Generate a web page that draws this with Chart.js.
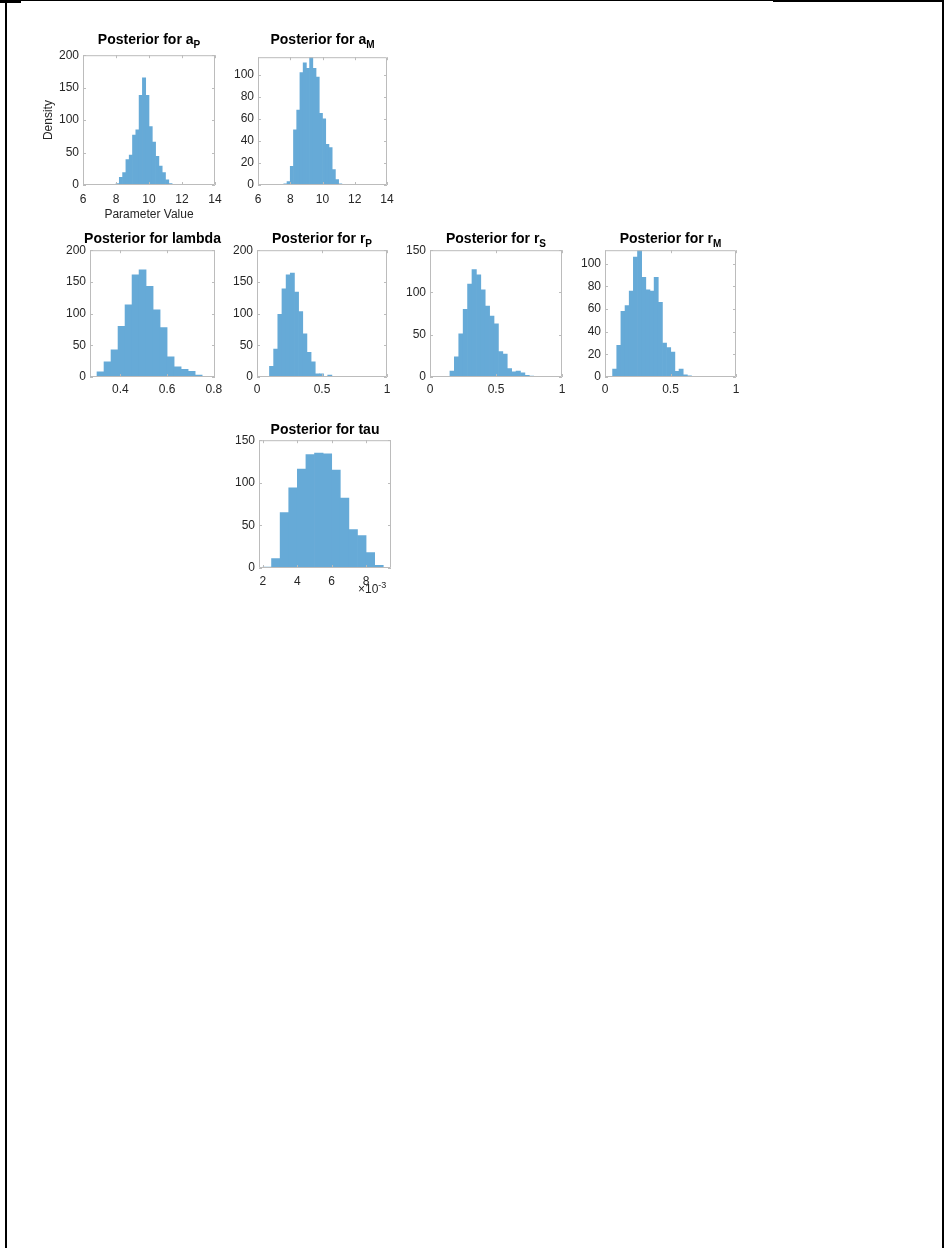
<!DOCTYPE html>
<html>
<head>
<meta charset="utf-8">
<title>Posterior histograms</title>
<script src="https://cdn.jsdelivr.net/npm/chart.js@4.4.1/dist/chart.umd.min.js"></script>
<style>
  body { margin: 0; background: #fff; width: 945px; height: 1248px; position: relative; overflow: hidden;
         font-family: "Liberation Sans", Arial, Helvetica, sans-serif; }
  .rule { position: absolute; background: #000; }
  .panel { position: absolute; }
  .ttl { position: absolute; font-weight: bold; font-size: 14px; line-height: 16px; color: #000;
         white-space: nowrap; transform: translateX(-50%); }
  .ttl sub { font-size: 10px; vertical-align: -4px; line-height: 0; }
  .exp { position: absolute; font-size: 12px; line-height: 14px; color: #262626; white-space: nowrap; }
  .exp sup { font-size: 9px; vertical-align: 5px; line-height: 0; }
</style>
</head>
<body>
<div class="rule" style="left:0;top:0;width:21px;height:3px"></div>
<div class="rule" style="left:21px;top:0;width:752px;height:1px"></div>
<div class="rule" style="left:773px;top:0;width:171px;height:2px"></div>
<div class="rule" style="left:5px;top:0;width:2px;height:1248px"></div>
<div class="rule" style="left:942px;top:0;width:2px;height:1248px"></div>

<script>
// histogram bins: first edge, bin width, counts per bin
var aPStart = 8.0, aPWidth = 0.2;
var aPCounts = [2, 12, 19, 39, 46, 77, 85, 138, 165, 138, 90, 66, 44, 29, 19, 8, 2];

var aMStart = 7.6, aMWidth = 0.2;
var aMCounts = [1, 3, 17, 50, 68, 102, 111, 106, 116, 106, 98, 65, 60, 37, 34, 14, 5, 1];

var lambdaStart = 0.27, lambdaWidth = 0.03;
var lambdaCounts = [1, 8, 24, 43, 80, 114, 161, 169, 143, 106, 78, 32, 16, 12, 9, 3];

var rPStart = 0.032, rPWidth = 0.032;
var rPCounts = [1, 1, 17, 44, 99, 139, 161, 164, 134, 103, 68, 39, 24, 5, 5, 1, 3];

var rSStart = 0.151, rSWidth = 0.0334;
var rSCounts = [7, 24, 51, 80, 110, 127, 121, 103, 84, 72, 63, 30, 27, 10, 6, 7, 5, 2, 1];

var rMStart = 0.058, rMWidth = 0.0317;
var rMCounts = [7, 28, 58, 63, 76, 106, 112, 88, 77, 76, 88, 66, 30, 26, 22, 5, 7, 2, 1];

var tauStart = 2.0, tauWidth = 0.5;   // x10^-3
var tauCounts = [1, 11, 65, 94, 116, 133, 135, 134, 115, 82, 45, 38, 18, 3];

// tick labels
var aTicksX = [6, 8, 10, 12, 14];
var lambdaTicksX = [0.4, 0.6, 0.8];
var rTicksX = [0, 0.5, 1];
var tauTicksX = [2, 4, 6, 8];
var ticks200 = [0, 50, 100, 150, 200];
var ticks150 = [0, 50, 100, 150];
var ticks100 = [0, 20, 40, 60, 80, 100];

var BAR = 'rgb(102,170,215)';
var INK = '#262626';
var FONT = '"Liberation Sans", Arial, Helvetica, sans-serif';

function binPoints(start, width, counts) {
  return counts.map(function (c, i) { return { x: start + width * (i + 0.5), y: c }; });
}

// axes box with inward tick marks on all four sides
var boxPlugin = {
  id: 'axesBox',
  afterDatasetsDraw: function (chart) {
    var a = chart.chartArea, ctx = chart.ctx;
    var xs = chart.scales.x, ys = chart.scales.y;
    ctx.save();
    ctx.strokeStyle = '#bcbcbc';
    ctx.lineWidth = 1;
    ctx.beginPath();
    ctx.rect(a.left + 0.5, a.top + 0.5, a.right - a.left - 1, a.bottom - a.top - 1);
    xs.ticks.forEach(function (t) {
      var px = Math.round(xs.getPixelForValue(t.value)) + 0.5;
      ctx.moveTo(px, a.bottom); ctx.lineTo(px, a.bottom - 3);
      ctx.moveTo(px, a.top); ctx.lineTo(px, a.top + 3);
    });
    ys.ticks.forEach(function (t) {
      var py = Math.round(ys.getPixelForValue(t.value)) + 0.5;
      ctx.moveTo(a.left, py); ctx.lineTo(a.left + 3, py);
      ctx.moveTo(a.right, py); ctx.lineTo(a.right - 3, py);
    });
    ctx.stroke();
    ctx.restore();
  }
};

var panels = [
  { title: 'Posterior for a<sub>P</sub>', box: [83, 53, 215, 185], titleTop: 31, xPad: 7,
    data: binPoints(aPStart, aPWidth, aPCounts), xMin: 6, xMax: 14, xTicks: aTicksX,
    yMax: 200, yTicks: ticks200, padL: 42, padB: 37, yTitle: 'Density', xTitle: 'Parameter Value' },
  { title: 'Posterior for a<sub>M</sub>', box: [258, 55, 387, 185], titleTop: 31, xPad: 7,
    data: binPoints(aMStart, aMWidth, aMCounts), xMin: 6, xMax: 14, xTicks: aTicksX,
    yMax: 116, yTicks: ticks100 },
  { title: 'Posterior for lambda', box: [90, 248, 215, 377], titleTop: 230,
    data: binPoints(lambdaStart, lambdaWidth, lambdaCounts), xMin: 0.27, xMax: 0.805, xTicks: lambdaTicksX,
    yMax: 200, yTicks: ticks200 },
  { title: 'Posterior for r<sub>P</sub>', box: [257, 248, 387, 377], titleTop: 230,
    data: binPoints(rPStart, rPWidth, rPCounts), xMin: 0, xMax: 1, xTicks: rTicksX,
    yMax: 200, yTicks: ticks200 },
  { title: 'Posterior for r<sub>S</sub>', box: [430, 248, 562, 377], titleTop: 230,
    data: binPoints(rSStart, rSWidth, rSCounts), xMin: 0, xMax: 1, xTicks: rTicksX,
    yMax: 150, yTicks: ticks150 },
  { title: 'Posterior for r<sub>M</sub>', box: [605, 248, 736, 377], titleTop: 230,
    data: binPoints(rMStart, rMWidth, rMCounts), xMin: 0, xMax: 1, xTicks: rTicksX,
    yMax: 112, yTicks: ticks100 },
  { title: 'Posterior for tau', box: [259, 438, 391, 568], titleTop: 421, xPad: 6,
    data: binPoints(tauStart, tauWidth, tauCounts), xMin: 1.77, xMax: 9.45, xTicks: tauTicksX,
    yMax: 150, yTicks: ticks150 }
];

function makePanel(p) {
  // room around the plot box for tick labels; the right side also covers
  // the last x label's half width plus its padding
  var padL = p.padL || 40, padB = p.padB || 24, padT = 9, padR = 18;
  var w = p.box[2] - p.box[0] + padL + padR;
  var h = p.box[3] - p.box[1] + padT + padB;

  var wrap = document.createElement('div');
  wrap.className = 'panel';
  wrap.style.left = (p.box[0] - padL) + 'px';
  wrap.style.top = (p.box[1] - padT) + 'px';
  var cv = document.createElement('canvas');
  cv.width = w; cv.height = h;
  wrap.appendChild(cv);
  document.body.appendChild(wrap);

  var ttl = document.createElement('div');
  ttl.className = 'ttl';
  ttl.innerHTML = p.title;
  ttl.style.left = ((p.box[0] + p.box[2]) / 2) + 'px';
  ttl.style.top = p.titleTop + 'px';
  document.body.appendChild(ttl);

  var tickFont = { family: FONT, size: 12 };
  new Chart(cv, {
    type: 'bar',
    data: { datasets: [{ data: p.data, backgroundColor: BAR, borderWidth: 0,
                         barPercentage: 1, categoryPercentage: 1 }] },
    options: {
      responsive: false,
      animation: false,
      layout: { padding: { left: 0, top: padT, right: padR, bottom: 0 } },
      plugins: { legend: { display: false }, tooltip: { enabled: false } },
      scales: {
        x: {
          type: 'linear', min: p.xMin, max: p.xMax, offset: false,
          grid: { display: false, drawTicks: false }, border: { display: false },
          ticks: { color: INK, font: tickFont, padding: p.xPad || 5, maxRotation: 0, autoSkip: false,
                   callback: function (v) { return String(v); } },
          afterBuildTicks: function (s) { s.ticks = p.xTicks.map(function (v) { return { value: v }; }); },
          afterFit: function (s) { s.height = padB; },
          title: p.xTitle ? { display: true, text: p.xTitle, color: INK, font: tickFont,
                              padding: { top: 0, bottom: 0 } } : { display: false }
        },
        y: {
          min: 0, max: p.yMax,
          grid: { display: false, drawTicks: false }, border: { display: false },
          ticks: { color: INK, font: tickFont, padding: 4, autoSkip: false,
                   callback: function (v) { return String(v); } },
          afterBuildTicks: function (s) { s.ticks = p.yTicks.map(function (v) { return { value: v }; }); },
          afterFit: function (s) { s.width = padL; },
          title: p.yTitle ? { display: true, text: p.yTitle, color: INK, font: tickFont,
                              padding: { top: 0, bottom: 0 } } : { display: false }
        }
      }
    },
    plugins: [boxPlugin]
  });
}

panels.forEach(makePanel);
</script>
<div class="exp" style="left:358px;top:582px">&times;10<sup>-3</sup></div>
</body>
</html>
